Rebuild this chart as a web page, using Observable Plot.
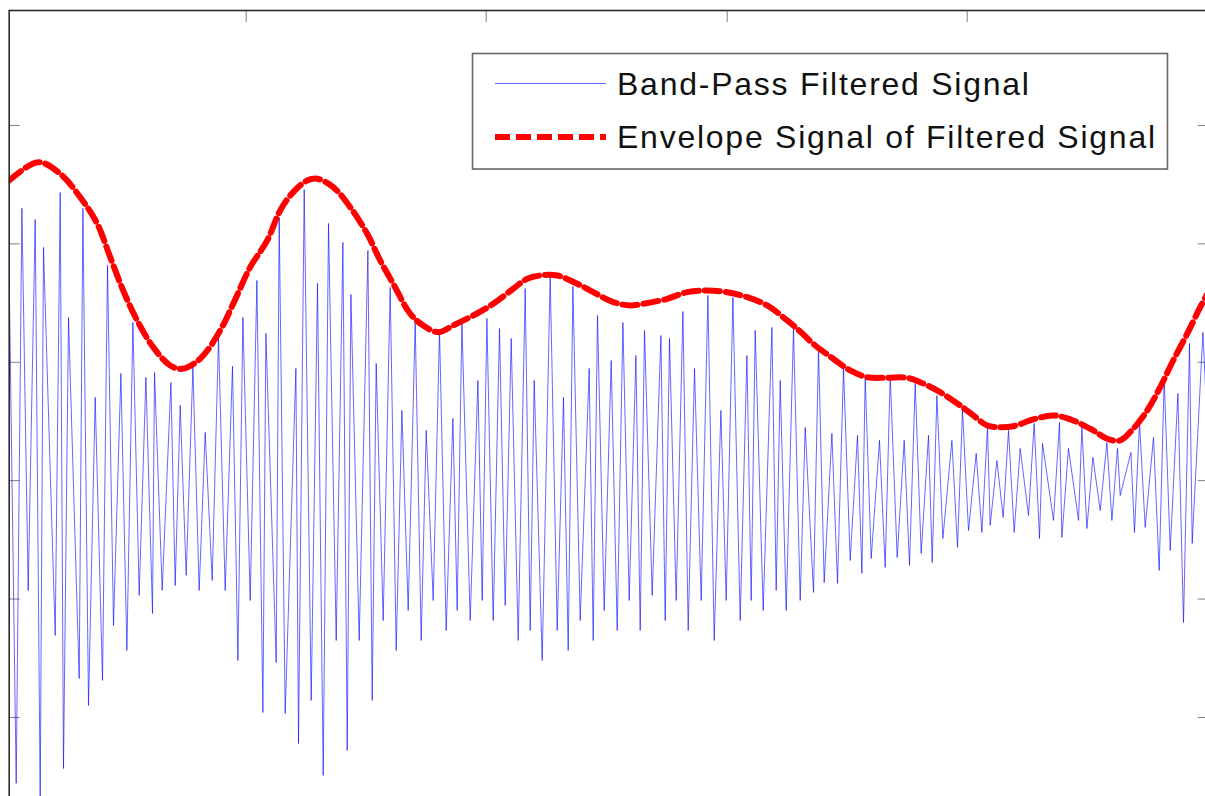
<!DOCTYPE html>
<html>
<head>
<meta charset="utf-8">
<script src="https://cdn.jsdelivr.net/npm/d3@7"></script>
<script src="https://cdn.jsdelivr.net/npm/@observablehq/plot@0.6"></script>
<style>
  html, body { margin: 0; padding: 0; background: #fff; }
  #wrap { position: relative; width: 1205px; height: 796px; overflow: hidden; background: #fff; }
  #chart { position: absolute; left: 0; top: 0; }
  #legend { position: absolute; left: 0; top: 0; pointer-events: none; }
  #legend text { font-family: "Liberation Sans", Arial, Helvetica, sans-serif; font-size: 32px; letter-spacing: 1.75px; fill: #111; }
</style>
</head>
<body>
<div id="wrap">
  <div id="chart"></div>
  <svg id="legend" width="1205" height="796"></svg>
</div>
<script>
// Band-pass filtered signal: sample index and amplitude at its turning points
const sampleIdx = [
  0,7,12.7,19,26,31,34.3,46,51,54.3,59.3,70,73.7,79.3,86,93.3,98.3,104.3,111.7,117.7,123.7,130,136.7,143.3,145.3,153,161.7,166,171,177,183.7,190,
  196,203,209.3,216,223.3,228.7,233.7,241,247.7,253.7,256.7,267,270,276,286.7,289.3,295,302,308.3,314,319.3,327,333.7,338,341.7,350,358.7,363,367,374,381,387,
  392.7,399,406,412,417,424,430.3,437,443.7,448,452.7,461,468.7,473,477.7,484,490.3,496,502,509,516,521,525,533,541,548,554.3,559,563.7,571,580,584,588.3,
  595,602,608,613.7,620,626.7,631,635.3,643,651.7,656,660.3,667,673.7,679,685.3,692,698.7,705,711.7,717,723.7,731,737.7,742,746,754,762.7,767,771,777,784.3,791,
  796,804.3,809.3,815,822.7,828.3,834.3,841,848.3,852.7,856,862,870.3,876,881,888,895,900.3,906,912,919.3,923,927.7,933.7,942.7,948.3,953.3,959.3,967,972.7,978.3,981,987.7,
  994,999.3,1005,1011,1019.3,1025,1030.3,1033.3,1044.3,1050.3,1052.7,1059.3,1069.3,1072.7,1077.7,1083.7,1091,1097.7,1102.7,1108.3,1111,1121.7,1125.3,1130.3,1136,1144.3,1150,1155,1161,1168.7,1174.3,1180.3,1183,1193.7,1199
];
const filtered = [
  1.716,-2.557,2.3,-0.927,2.206,-2.70,1.97,-1.307,2.434,-2.431,1.378,-1.671,2.3,-1.899,0.703,-1.687,1.818,-1.223,0.905,-1.434,1.336,-0.969,0.872,-1.122,0.914,-0.927,0.829,-0.885,0.635,-0.8,0.956,-0.927,
  0.407,-0.843,1.209,-0.927,0.965,-1.519,1.378,-1.012,1.691,-1.958,1.243,-1.536,2.223,-1.966,0.948,-2.22,2.459,-1.856,1.666,-2.49,2.172,-1.35,2.012,-2.279,1.573,-1.35,1.944,-1.856,0.99,-1.181,1.632,-1.434,
  0.593,-1.096,1.336,-1.35,0.424,-1.012,1.269,-1.265,0.525,-1.096,1.336,-1.181,0.846,-1.012,1.37,-1.181,1.285,-1.054,1.201,-1.35,1.623,-1.265,0.846,-1.519,1.733,-1.265,0.703,-1.434,1.64,-1.181,0.948,-1.35,1.395,
  -1.096,1.015,-1.265,1.336,-1.012,1.057,-1.265,1.269,-0.969,1.226,-1.181,1.201,-1.012,1.429,-1.265,0.948,-1.012,1.564,-1.35,0.593,-1.012,1.547,-1.181,1.057,-1.012,1.269,-1.096,1.294,-0.927,0.846,-1.096,1.285,-1.012,
  0.449,-0.944,1.117,-0.86,0.399,-0.868,0.948,-0.674,0.382,-0.783,0.872,-0.657,0.34,-0.733,0.888,-0.649,0.34,-0.716,0.821,-0.615,0.382,-0.691,0.719,-0.488,0.34,-0.564,0.593,-0.421,0.23,-0.437,0.449,-0.378,0.17,
  -0.311,0.424,-0.437,0.272,-0.294,0.483,-0.488,0.314,-0.336,0.492,-0.48,0.272,-0.336,0.449,-0.404,0.196,-0.252,0.323,-0.336,0.272,-0.125,0.238,-0.437,0.492,-0.395,0.365,-0.758,0.863,-0.59,0.736,-1.198,1.159,-0.53,1.252,0.3
];
// Envelope of the filtered signal
const envIdx = [
  0,29,51,71,88,101,114,128,144,161,173,191,211,224,241,258,271,284,298,308,324,341,358,371,384,401,414,429,444,464,
  484,504,518,531,548,568,584,604,621,634,658,678,698,718,738,758,778,791,804,824,841,858,878,898,911,931,951,964,978,991,
  1004,1024,1044,1064,1084,1098,1111,1124,1138,1151,1164,1178,1191,1199
];
const envelope = [
  2.535,2.69,2.592,2.394,2.17,1.888,1.606,1.353,1.128,0.973,0.945,1.03,1.269,1.494,1.803,2.029,2.282,2.437,2.535,2.55,2.479,2.31,2.085,1.86,1.663,1.41,1.311,1.254,1.311,1.395,
  1.494,1.621,1.705,1.733,1.733,1.663,1.592,1.508,1.48,1.494,1.536,1.592,1.606,1.592,1.55,1.48,1.353,1.26,1.156,1.03,0.931,0.874,0.869,0.869,0.832,0.747,0.635,0.551,0.466,0.452,
  0.46,0.517,0.551,0.508,0.424,0.354,0.34,0.438,0.593,0.79,1.015,1.241,1.465,1.59
];
const xTicks = [237, 477, 718, 958];
const yTicks = [-2, -1, 0, 1, 2, 3];
const seriesNames = ["Band-Pass Filtered Signal", "Envelope Signal of Filtered Signal"];
const seriesColors = ["#0000ff", "#ff0000"];

const signalData = sampleIdx.map((t, i) => ({t, v: filtered[i]}));
const envData = envIdx.map((t, i) => ({t, v: envelope[i]}));

const chart = Plot.plot({
  width: 1205,
  height: 796,
  marginLeft: 8.7,
  marginRight: -2.7,
  marginTop: 10,
  marginBottom: -3,
  style: {background: "white", color: "#808080", overflow: "hidden"},
  x: {domain: [0, 1199], axis: "top", ticks: xTicks, tickSize: -11, tickFormat: () => "", label: null},
  y: {domain: [-2.693, 3.971], axis: "both", ticks: yTicks, tickSize: -11, tickFormat: () => "", label: null},
  marks: [
    Plot.line(signalData, {x: "t", y: "v", stroke: seriesColors[0], strokeWidth: 1, strokeOpacity: 0.6, clip: true}),
    Plot.line(envData, {x: "t", y: "v", stroke: seriesColors[1], strokeWidth: 6, strokeDasharray: "15,6", curve: "catmull-rom", clip: true}),
    Plot.frame({stroke: "#2b2b2b", strokeWidth: 1.6})
  ]
});
document.getElementById("chart").appendChild(chart);

// Legend box (inside the axes, top right)
const lg = d3.select("#legend");
lg.append("rect").attr("x", 472.5).attr("y", 53.5).attr("width", 695).attr("height", 115.5)
  .attr("fill", "#fff").attr("stroke", "#666").attr("stroke-width", 1.6);
lg.append("line").attr("x1", 495).attr("x2", 606).attr("y1", 83.5).attr("y2", 83.5)
  .attr("stroke", seriesColors[0]).attr("stroke-width", 1).attr("stroke-opacity", 0.6);
lg.append("line").attr("x1", 495).attr("x2", 606).attr("y1", 137).attr("y2", 137)
  .attr("stroke", seriesColors[1]).attr("stroke-width", 6).attr("stroke-dasharray", "15,6");
lg.append("text").attr("x", 617).attr("y", 95).text(seriesNames[0]);
lg.append("text").attr("x", 617).attr("y", 148.3).text(seriesNames[1]);
</script>
</body>
</html>
